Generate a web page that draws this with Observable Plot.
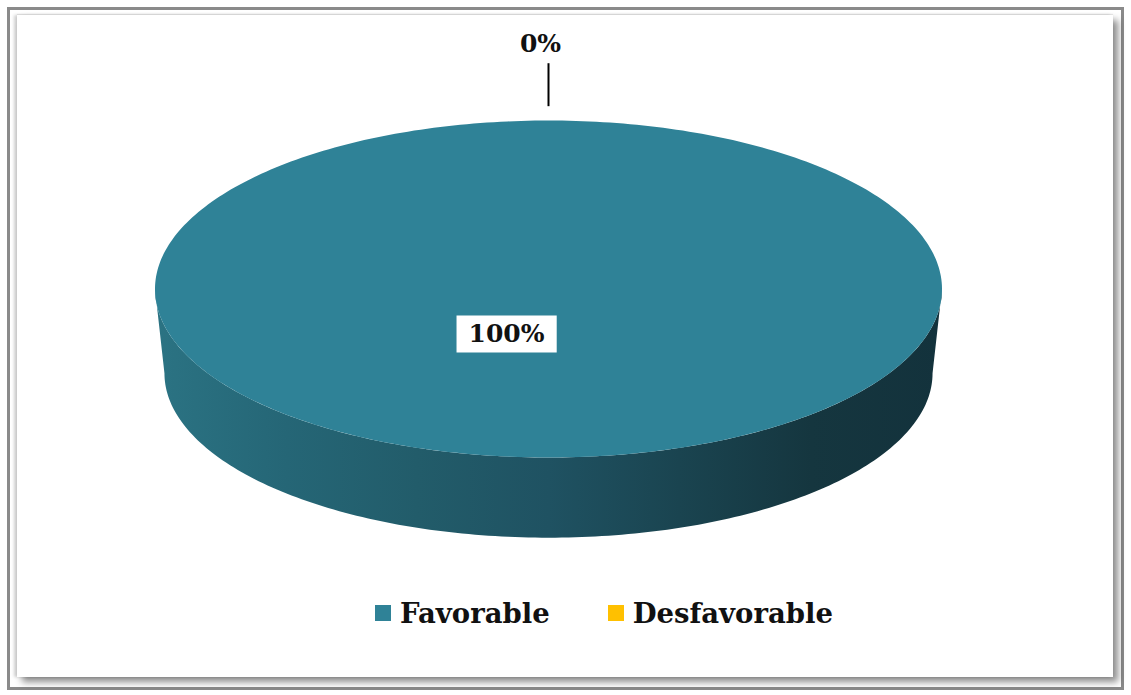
<!DOCTYPE html>
<html>
<head>
<meta charset="utf-8">
<script src="https://cdn.jsdelivr.net/npm/d3@7"></script>
<script src="https://cdn.jsdelivr.net/npm/@observablehq/plot@0.6"></script>
<style>
  body { margin: 0; background: #fff; }
  #page { position: relative; width: 1131px; height: 695px; overflow: hidden; background: #fff; }
  #frame { position: absolute; left: 7px; top: 7px; width: 1117px; height: 683px; box-sizing: border-box; border: 3px solid #8a8a8a; }
  #panel { position: absolute; left: 17px; top: 15px; width: 1096px; height: 662px; background: #fff;
           box-shadow: 5px 5px 7px rgba(0,0,0,0.45), -3px 0 3px rgba(0,0,0,0.18), 0 -1px 1px rgba(0,0,0,0.08); }
  #chart { position: absolute; left: 0; top: 0; }
  #legend { position: absolute; left: 375px; top: 596px; }
  .leg-swatches { margin: 0 !important; font-family: "DejaVu Serif", serif !important; font-weight: bold; font-size: 27.5px !important; color: #111; }
  .leg-swatch { margin-right: 58px !important; }
  .leg-swatch > svg { margin-right: 9px !important; }
</style>
</head>
<body>
<div id="page">
  <div id="frame"></div>
  <div id="panel"></div>
  <div id="chart"></div>
  <div id="legend"></div>
</div>
<script>
// Opinion split shown as a 3-D pie
const categories = ["Favorable", "Desfavorable"];
const percents = [100, 0];
const sliceColors = ["#2f8297", "#ffc000"];
// side-wall shading, light (left) to dark (right)
const sideShades = [
  ["#2b7383", "#256676", "#225c6a", "#1f5262", "#1a4450", "#15363f", "#13323c"],
  ["#d9a300", "#c69400", "#b38600", "#a07700", "#8c6900", "#785a00", "#6a5000"]
];

// 3-D geometry (unit circle space; y grows downward)
const depth = 0.5;      // wall height relative to the vertical radius
const shrink = 0.976;   // perspective narrowing of the base
const step = Math.PI / 180;

const arcs = d3.pie().sort(null).value(d => d)(percents);

function arcPoints(a0, a1, s = 1, oy = 0) {
  const n = Math.max(1, Math.ceil(Math.abs(a1 - a0) / step));
  return d3.range(n + 1).map(i => {
    const a = a0 + (a1 - a0) * i / n;
    return {x: s * Math.sin(a), y: oy - s * Math.cos(a)};
  });
}

// top faces
const topRows = [];
arcs.forEach((a, i) => {
  if (a.endAngle - a.startAngle <= 0) return;
  [{x: 0, y: 0}, ...arcPoints(a.startAngle, a.endAngle)]
    .forEach(p => topRows.push({...p, key: categories[i]}));
});

// visible front wall (from 3 o'clock through 6 o'clock to 9 o'clock)
const sideRows = [];
arcs.forEach((a, i) => {
  const s0 = Math.max(a.startAngle, Math.PI / 2);
  const s1 = Math.min(a.endAngle, 3 * Math.PI / 2);
  if (s1 <= s0) return;
  [...arcPoints(s0, s1), ...arcPoints(s1, s0, shrink, depth)]
    .forEach(p => sideRows.push({...p, key: categories[i], idx: i}));
});

// labels: non-empty slices inside, empty slices outside with a leader
const insideLabels = arcs.filter(a => a.value > 0).map(a => {
  const m = (a.startAngle + a.endAngle) / 2;
  return {x: 0.27 * Math.sin(m), y: -0.27 * Math.cos(m), text: `${a.value}%`};
});
const outsideLabels = arcs.filter(a => a.value === 0).map(a => {
  const m = a.startAngle;
  return {
    x1: 1.085 * Math.sin(m), y1: -1.085 * Math.cos(m),
    x2: 1.34 * Math.sin(m), y2: -1.34 * Math.cos(m),
    text: `${a.value}%`
  };
});

const sideMarks = d3.groups(sideRows, d => d.idx).map(([idx, rows]) =>
  Plot.line(rows, {x: "x", y: "y", fill: `url(#side-${idx})`, stroke: "none", curve: "linear-closed"})
);
const topMarks = categories.map((c, i) =>
  Plot.line(topRows.filter(d => d.key === c), {x: "x", y: "y", fill: sliceColors[i], stroke: "none", curve: "linear-closed"})
);

const chart = Plot.plot({
  width: 1131,
  height: 580,
  margin: 0,
  x: {domain: [-1, 1], range: [154.5, 941.5], axis: null},
  y: {domain: [-1, 1], range: [120, 457], axis: null},
  style: {background: "transparent", overflow: "visible"},
  marks: [
    ...sideMarks,
    ...topMarks,
    Plot.link(outsideLabels, {x1: "x1", y1: "y1", x2: "x2", y2: "y2", stroke: "#000", strokeWidth: 2}),
    Plot.text(outsideLabels, {x: "x2", y: "y2", text: "text", dx: -8, dy: -19, lineAnchor: "middle",
      fontFamily: "DejaVu Serif", fontWeight: "bold", fontSize: 25, fill: "#111"}),
    Plot.text(insideLabels, {x: "x", y: "y", text: "text", dx: -42, lineAnchor: "middle",
      fontFamily: "DejaVu Serif", fontWeight: "bold", fontSize: 25, fill: "#111"})
  ]
});

// gradients for the walls
const defs = d3.select(chart).insert("defs", ":first-child");
sideShades.forEach((shades, i) => {
  const g = defs.append("linearGradient").attr("id", `side-${i}`).attr("x1", 0).attr("x2", 1).attr("y1", 0).attr("y2", 0);
  shades.forEach((c, j) => g.append("stop").attr("offset", j / (shades.length - 1)).attr("stop-color", c));
});

document.getElementById("chart").appendChild(chart);

// white boxes behind the inside labels
const insideTexts = new Set(insideLabels.map(d => d.text));
Array.from(chart.querySelectorAll("text"))
  .filter(t => insideTexts.has(t.textContent.trim()))
  .forEach(t => {
    const b = t.getBBox();
    const padX = 12, padY = 5;
    const r = document.createElementNS("http://www.w3.org/2000/svg", "rect");
    r.setAttribute("x", b.x - padX);
    r.setAttribute("y", b.y - padY + 1);
    r.setAttribute("width", b.width + 2 * padX);
    r.setAttribute("height", b.height + 2 * padY - 2);
    r.setAttribute("fill", "#fff");
    const tr = t.getAttribute("transform");
    if (tr) r.setAttribute("transform", tr);
    t.parentNode.insertBefore(r, t);
  });

const legend = Plot.legend({
  color: {type: "ordinal", domain: categories, range: sliceColors},
  legend: "swatches",
  swatchSize: 16,
  className: "leg"
});
document.getElementById("legend").appendChild(legend);
</script>
</body>
</html>
